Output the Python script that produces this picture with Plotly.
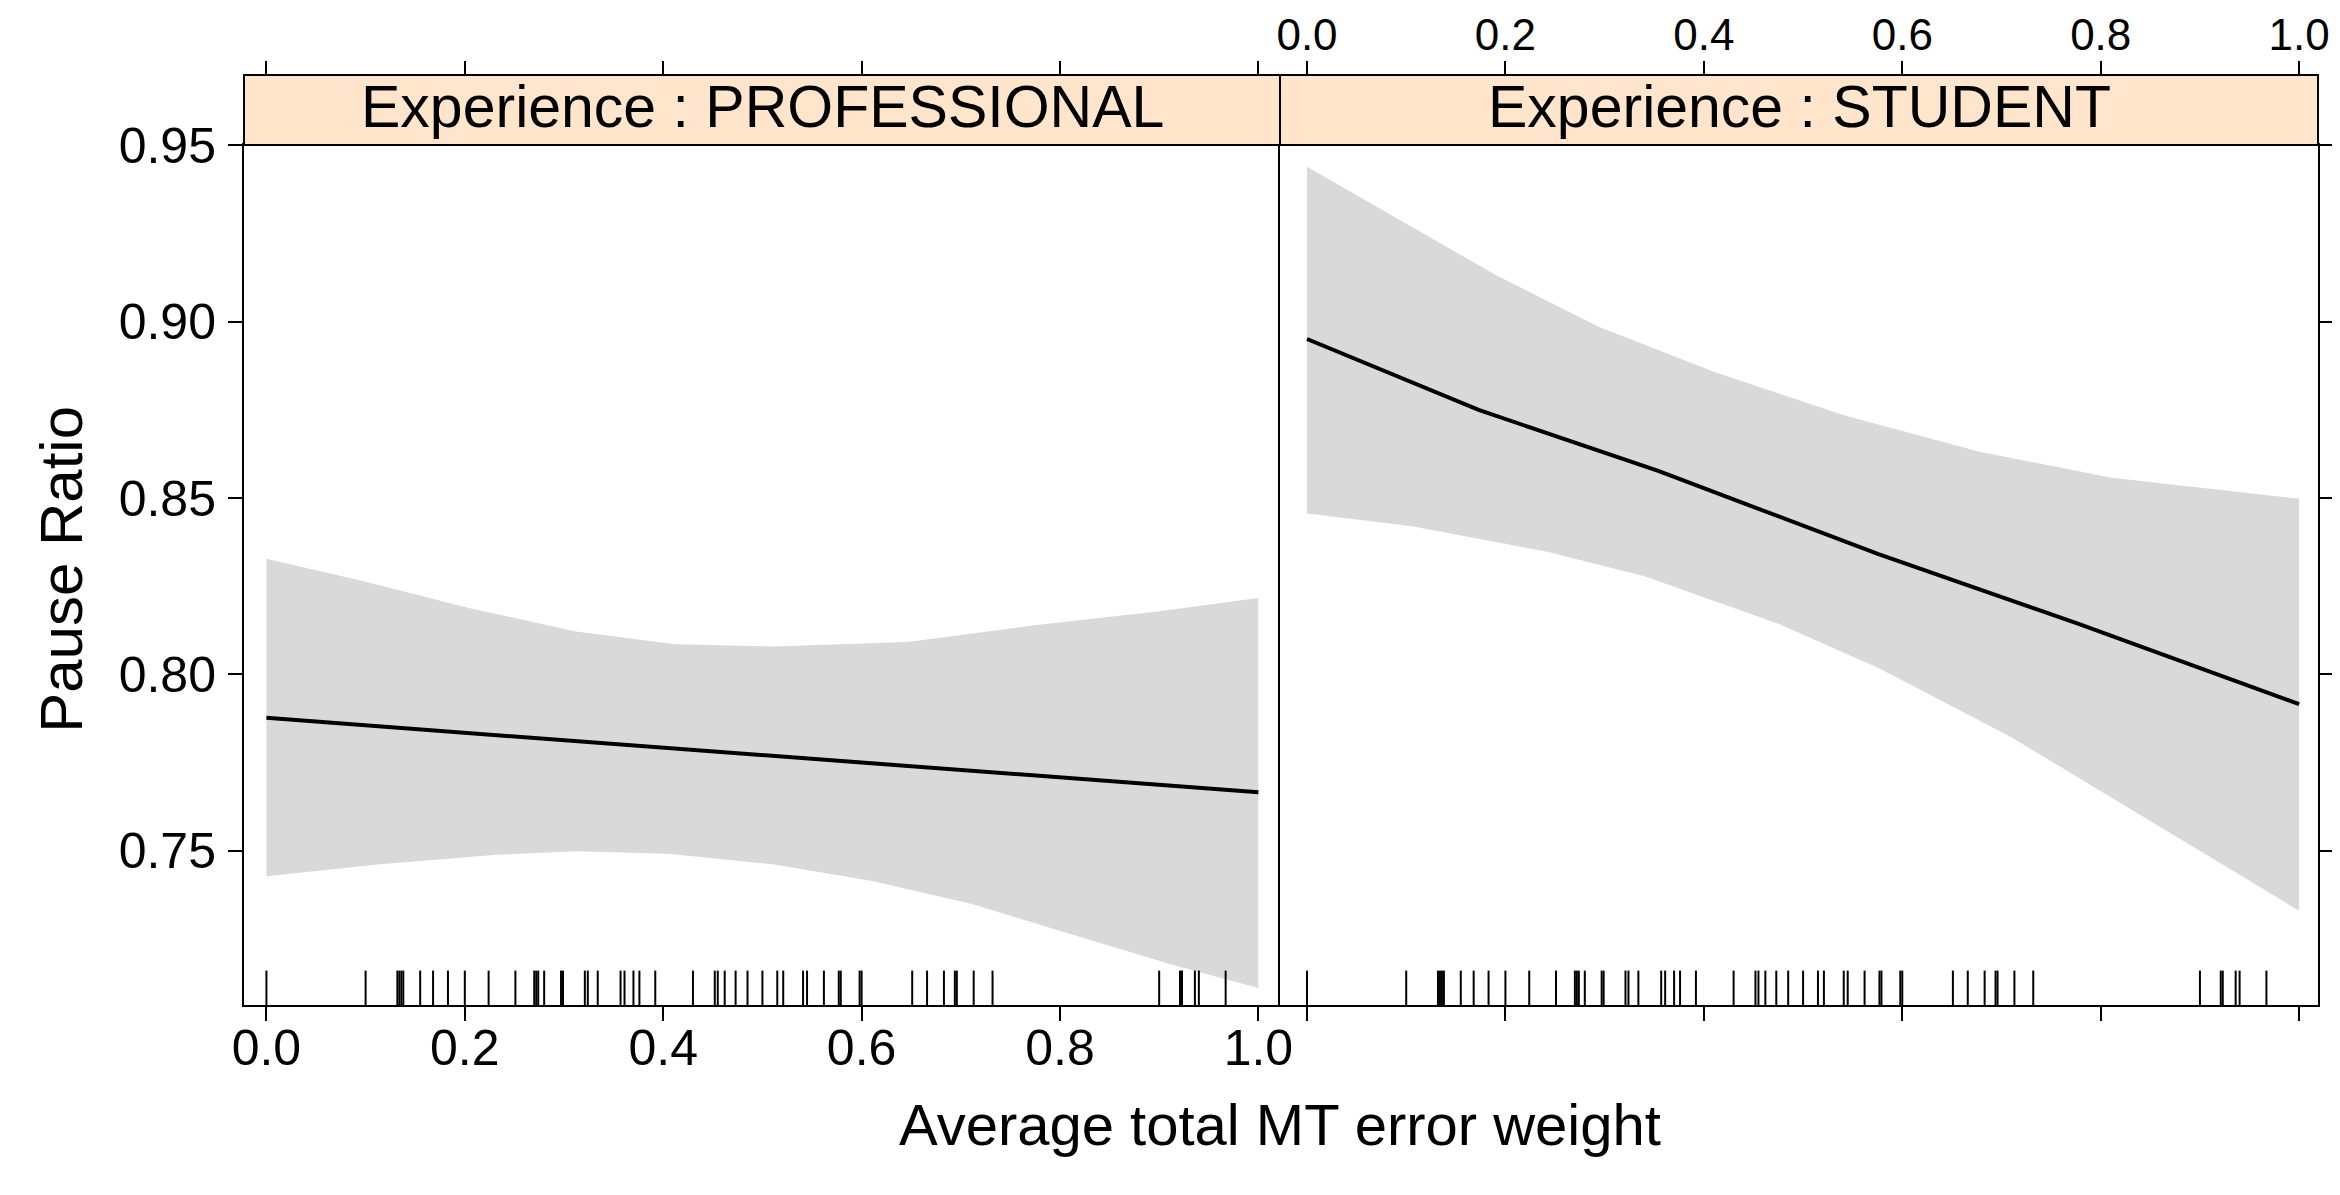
import plotly.graph_objects as go

# ---------------- data ----------------
panel_titles = ["Experience : PROFESSIONAL", "Experience : STUDENT"]
x_title = "Average total MT error weight"
y_title = "Pause Ratio"

x_ticks = [0.0, 0.2, 0.4, 0.6, 0.8, 1.0]
x_ticklabels = ["0.0", "0.2", "0.4", "0.6", "0.8", "1.0"]
y_ticks = [0.75, 0.80, 0.85, 0.90, 0.95]
y_ticklabels = ["0.75", "0.80", "0.85", "0.90", "0.95"]

# PROFESSIONAL panel
prof_fit_x = [0.0, 0.25, 0.5, 0.75, 1.0]
prof_fit_y = [0.7877, 0.7824, 0.7771, 0.7719, 0.7666]
prof_upper_x = [0.0, 0.098, 0.205, 0.312, 0.412, 0.512, 0.646, 0.779, 0.900, 1.0]
prof_upper_y = [0.8328, 0.8264, 0.8188, 0.8122, 0.8086, 0.8079, 0.8092, 0.8141, 0.8179, 0.8217]
prof_lower_x = [0.0, 0.112, 0.232, 0.312, 0.405, 0.512, 0.612, 0.713, 0.813, 0.913, 1.0]
prof_lower_y = [0.7428, 0.7461, 0.7489, 0.7499, 0.7492, 0.7461, 0.7414, 0.7348, 0.7262, 0.7177, 0.7111]

# STUDENT panel
stud_fit_x = [0.0, 0.173, 0.354, 0.576, 0.777, 1.0]
stud_fit_y = [0.8951, 0.8750, 0.8577, 0.8341, 0.8144, 0.7916]
stud_upper_x = [0.0, 0.106, 0.193, 0.294, 0.408, 0.542, 0.677, 0.811, 1.0]
stud_upper_y = [0.9439, 0.9269, 0.9128, 0.8986, 0.8860, 0.8734, 0.8632, 0.8558, 0.8498]
stud_lower_x = [0.0, 0.106, 0.240, 0.341, 0.475, 0.576, 0.710, 0.844, 1.0]
stud_lower_y = [0.8456, 0.8420, 0.8349, 0.8278, 0.8144, 0.8018, 0.7822, 0.7594, 0.7330]

# observed x values (rug)
rug_values = [0.000, 0.100, 0.132, 0.134, 0.136, 0.138, 0.155, 0.168, 0.183, 0.200,
              0.224, 0.251, 0.270, 0.272, 0.274, 0.280, 0.297, 0.299, 0.321, 0.324,
              0.334, 0.357, 0.361, 0.370, 0.376, 0.392, 0.430, 0.452, 0.455, 0.462,
              0.473, 0.485, 0.500, 0.515, 0.521, 0.541, 0.545, 0.562, 0.577, 0.579,
              0.598, 0.600, 0.651, 0.666, 0.683, 0.694, 0.696, 0.713, 0.732, 0.900,
              0.921, 0.923, 0.936, 0.940, 0.967]

# ---------------- styling / geometry ----------------
W, H = 2340, 1195
FONT = "Liberation Sans, Arial, Helvetica, sans-serif"
BAND = "#D9D9D9"
STRIP = "#FFE5CC"
split = 0.49952
ydom_top = 0.92473
y_range = [0.7063, 0.9501]
x1_range = [-0.0226, 1.0218]
x2_range = [-0.0272, 1.019]
rug_frac = 0.04

fig = go.Figure()


def add_panel(xa, ya, ux, uy, lx, ly, fx, fy):
    fig.add_trace(go.Scatter(
        x=list(ux) + list(lx)[::-1], y=list(uy) + list(ly)[::-1],
        fill="toself", fillcolor=BAND, mode="lines", line=dict(width=0, color=BAND),
        xaxis=xa, yaxis=ya, hoverinfo="skip", showlegend=False))
    fig.add_trace(go.Scatter(
        x=fx, y=fy, mode="lines", line=dict(color="black", width=4),
        xaxis=xa, yaxis=ya, showlegend=False))
    rx, ry = [], []
    y0 = y_range[0]
    y1 = y_range[0] + rug_frac * (y_range[1] - y_range[0])
    for v in rug_values:
        rx += [v, v, None]
        ry += [y0, y1, None]
    fig.add_trace(go.Scatter(
        x=rx, y=ry, mode="lines", line=dict(color="black", width=2),
        xaxis=xa, yaxis=ya, hoverinfo="skip", showlegend=False))


add_panel("x", "y", prof_upper_x, prof_upper_y, prof_lower_x, prof_lower_y, prof_fit_x, prof_fit_y)
add_panel("x2", "y2", stud_upper_x, stud_upper_y, stud_lower_x, stud_lower_y, stud_fit_x, stud_fit_y)

# invisible traces so the top (overlaying) axes get drawn
for xa, ya in [("x3", "y"), ("x4", "y2")]:
    fig.add_trace(go.Scatter(x=[0.5], y=[0.8], mode="markers", marker=dict(opacity=0),
                             xaxis=xa, yaxis=ya, hoverinfo="skip", showlegend=False))

tickfont = dict(family=FONT, size=50, color="black")
common_x = dict(tickvals=x_ticks, ticktext=x_ticklabels, ticks="outside", ticklen=14,
                tickwidth=1.5, tickcolor="black", showgrid=False, zeroline=False,
                automargin=False)
common_y = dict(tickvals=y_ticks, ticktext=y_ticklabels, ticks="outside", ticklen=14,
                tickwidth=1.5, tickcolor="black", showgrid=False, zeroline=False,
                tickfont=tickfont, range=y_range, domain=[0, ydom_top], automargin=False,
                showline=True, linecolor="black", linewidth=2)

fig.update_layout(
    width=W, height=H,
    margin=dict(l=236, r=30, t=67, b=198, autoexpand=False),
    paper_bgcolor="white", plot_bgcolor="white",
    font=dict(family=FONT, color="black"),
    xaxis=dict(domain=[0, split], range=x1_range, anchor="y", ticklabelstandoff=-16,
               tickfont=tickfont,
               showline=True, linecolor="black", linewidth=2, mirror=True, **common_x),
    xaxis2=dict(domain=[split, 1], range=x2_range, anchor="y2", showticklabels=False,
                showline=True, linecolor="black", linewidth=2, mirror=True, **common_x),
    xaxis3=dict(overlaying="x", anchor="free", position=1, side="top", range=x1_range,
                showticklabels=False, showline=False, **common_x),
    xaxis4=dict(overlaying="x2", anchor="free", position=1, side="top", range=x2_range,
                showticklabels=True, showline=False, ticklabelstandoff=-7,
                tickfont=dict(family=FONT, size=44, color="black"), **common_x),
    yaxis=dict(anchor="x", side="left", ticklabelstandoff=2, mirror=False, **common_y),
    yaxis2=dict(anchor="x2", side="right", showticklabels=False, mirror=True, **common_y),
)

# strips
for i, (x0, x1) in enumerate([(0, split), (split, 1)]):
    fig.add_shape(type="rect", xref="paper", yref="paper", x0=x0, x1=x1,
                  y0=ydom_top, y1=1, fillcolor=STRIP, line=dict(color="black", width=2))
    fig.add_annotation(x=(x0 + x1) / 2, y=(ydom_top + 1) / 2, xref="paper", yref="paper",
                       text=panel_titles[i], showarrow=False, xanchor="center", yanchor="middle",
                       yshift=3, font=dict(family=FONT, size=59, color="black"))

# axis titles
fig.add_annotation(x=0.4995, y=-0.129, xref="paper", yref="paper", text=x_title,
                   showarrow=False, xanchor="center", yanchor="middle",
                   font=dict(family=FONT, size=58, color="black"))
fig.add_annotation(x=-0.0877, y=0.468, xref="paper", yref="paper", text=y_title,
                   showarrow=False, xanchor="center", yanchor="middle", textangle=-90,
                   font=dict(family=FONT, size=60, color="black"))

fig.write_html("out.html")
